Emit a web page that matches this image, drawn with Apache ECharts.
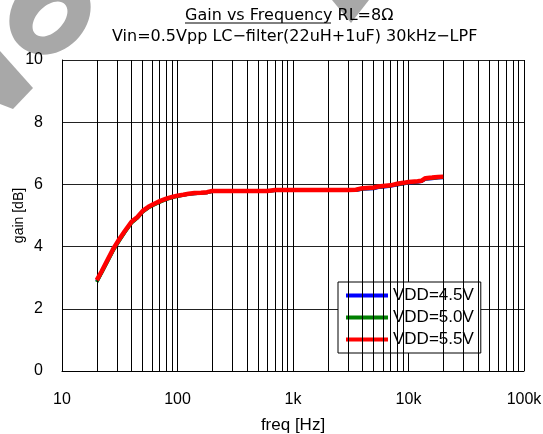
<!DOCTYPE html>
<html><head><meta charset="utf-8">
<script src="https://cdn.jsdelivr.net/npm/echarts@6/dist/echarts.min.js"></script>
<style>html,body{margin:0;padding:0;background:#fff}#c{width:543px;height:434px}</style>
</head><body><div id="c"></div>
<script>
var freqs = [20,22,25,28,31.5,35,40,45,50,56,63,71,80,90,100,112,125,140,160,180,200,250,300,400,500,600,700,800,1000,1500,2000,2500,3000,3500,4000,5000,5500,6000,7000,8000,9000,10000,12000,13000,14000,16000,18000,20000];
var gain55 = [2.92,3.2,3.6,3.95,4.25,4.5,4.8,4.95,5.15,5.28,5.38,5.47,5.54,5.6,5.64,5.67,5.7,5.72,5.73,5.75,5.79,5.79,5.79,5.79,5.79,5.79,5.82,5.82,5.82,5.82,5.82,5.82,5.82,5.83,5.88,5.9,5.93,5.95,5.97,6.02,6.05,6.08,6.1,6.12,6.2,6.22,6.24,6.25];
var gain50 = [2.86,3.15,3.55,3.9,4.2,4.46,4.76,4.92,5.12,5.25,5.35,5.44,5.52,5.58,5.62,5.66,5.69,5.71,5.72,5.74,5.78,5.78,5.78,5.78,5.78,5.78,5.81,5.81,5.81,5.81,5.81,5.81,5.81,5.82,5.86,5.88,5.92,5.93,5.96,6.0,6.03,6.06,6.09,6.11,6.18,6.2,6.22,6.23];
var gain45 = [2.88,3.17,3.57,3.92,4.22,4.48,4.78,4.93,5.13,5.26,5.36,5.45,5.53,5.59,5.63,5.66,5.69,5.71,5.72,5.74,5.78,5.78,5.78,5.78,5.78,5.78,5.81,5.81,5.81,5.81,5.81,5.81,5.81,5.81,5.85,5.87,5.91,5.92,5.95,5.99,6.02,6.05,6.08,6.1,6.17,6.19,6.21,6.22];
var seriesNames = ['VDD=4.5V','VDD=5.0V','VDD=5.5V'];
var xTickLabels = {10:'10',100:'100',1000:'1k',10000:'10k',100000:'100k'};
var minorFreqs = [];
[10,100,1000,10000].forEach(function(d){for(var k=2;k<=9;k++)minorFreqs.push(d*k);});

function pairs(g){return freqs.map(function(f,i){return [f,g[i]];});}
var FONT = 'Liberation Sans';
var TFONT = 'DejaVu Sans';
var WM = '#a8a8a8';
var chart = echarts.init(document.getElementById('c'));
chart.setOption({
  animation:false,
  backgroundColor:'#fff',
  textStyle:{fontFamily:FONT},
  grid:{left:62,right:19,top:60,bottom:63,containLabel:false,outerBoundsMode:'none'},
  xAxis:{type:'log',logBase:10,min:10,max:100000,
    name:'freq [Hz]',nameLocation:'middle',nameGap:46,nameMoveOverlap:false,
    nameTextStyle:{color:'#000',fontSize:17,fontFamily:FONT},
    axisLine:{lineStyle:{color:'#000',width:1}},
    axisTick:{show:false},
    axisLabel:{color:'#000',fontSize:16,margin:21,fontFamily:FONT,formatter:function(v){return xTickLabels[Math.round(v)]||'';}},
    splitLine:{show:true,lineStyle:{color:'#000',width:1}}
  },
  yAxis:{type:'value',min:0,max:10,interval:2,
    name:'gain [dB]',nameLocation:'middle',nameGap:36,nameMoveOverlap:false,
    nameTextStyle:{color:'#000',fontSize:14,fontFamily:FONT},
    axisLine:{show:true,lineStyle:{color:'#000',width:1}},
    axisTick:{show:false},
    axisLabel:{color:'#000',fontSize:16,margin:19,fontFamily:FONT},
    splitLine:{show:true,lineStyle:{color:'#222',width:1}}
  },
  legend:{orient:'vertical',left:338,top:282,data:seriesNames,
    icon:'rect',itemWidth:42,itemHeight:4,itemGap:5,
    padding:[5,7,5,8],
    backgroundColor:'#fff',borderColor:'#000',borderWidth:1,
    textStyle:{color:'#000',fontSize:17,fontFamily:FONT,lineHeight:17}
  },
  series:[
    {name:'grid',type:'line',data:[],silent:true,
      markLine:{silent:true,symbol:'none',label:{show:false},animation:false,
        lineStyle:{color:'#000',width:1,type:'solid'},
        data:minorFreqs.map(function(f){return {xAxis:f};})}},
    {name:seriesNames[0],type:'line',data:pairs(gain45),showSymbol:false,color:'#0000ff',lineStyle:{width:3.5,color:'#0000ff'},z:3},
    {name:seriesNames[1],type:'line',data:pairs(gain50),showSymbol:false,color:'#008000',lineStyle:{width:3.5,color:'#008000'},z:4},
    {name:seriesNames[2],type:'line',data:pairs(gain55),showSymbol:false,color:'#ff0000',lineStyle:{width:4.5,color:'#ff0000'},z:5}
  ],
  graphic:[
    {type:'group',z:-10,silent:true,children:[
      {type:'ellipse',shape:{cx:0,cy:0,rx:44,ry:37},x:50,y:14,rotation:Math.PI/4,style:{fill:WM},z:-10},
      {type:'ellipse',shape:{cx:0,cy:0,rx:21,ry:13},x:50,y:19,rotation:Math.PI/4,style:{fill:'#fff'},z:-9}
    ]},
    {type:'polygon',z:-10,silent:true,shape:{points:[[0,51],[33,88],[13,109],[0,104]]},style:{fill:WM}},
    {type:'polygon',z:-10,silent:true,shape:{points:[[332,0],[369,0],[351,23]]},style:{fill:WM}},
    {type:'text',z:10,left:185,top:8,style:{text:'Gain vs Frequency RL=8Ω',fill:'#000',font:'16px "'+TFONT+'"'}},
    {type:'line',z:10,shape:{x1:185,y1:23,x2:331,y2:23},style:{stroke:'#000',lineWidth:1}},
    {type:'text',z:10,left:112,top:29,style:{text:'Vin=0.5Vpp LC−filter(22uH+1uF) 30kHz−LPF',fill:'#000',font:'16px "'+TFONT+'"'}}
  ]
});
</script></body></html>
